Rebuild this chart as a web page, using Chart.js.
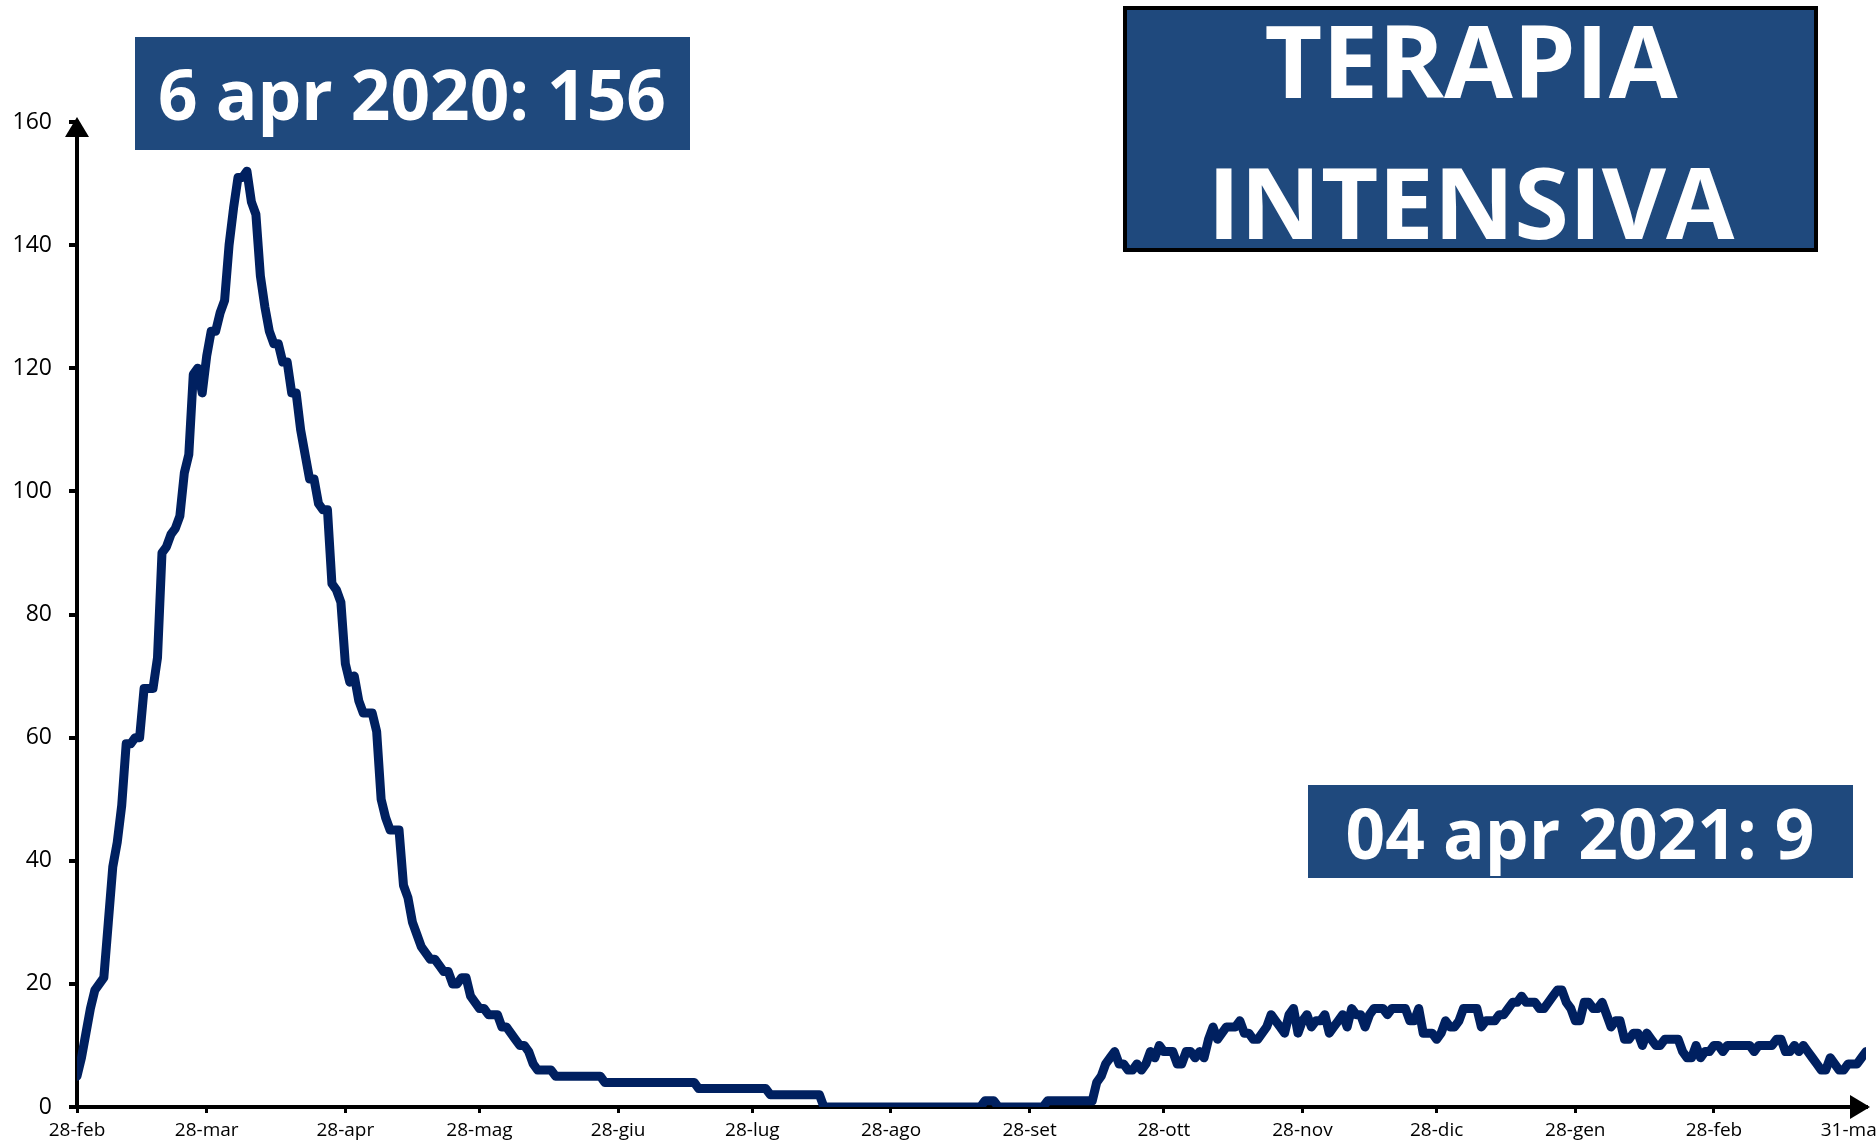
<!DOCTYPE html>
<html>
<head>
<meta charset="utf-8">
<title>Terapia intensiva</title>
<script src="https://cdn.jsdelivr.net/npm/chart.js@4.4.1/dist/chart.umd.min.js"></script>
<style>
  html, body { margin: 0; padding: 0; background: #fff; }
  canvas { display: block; }
</style>
</head>
<body>
<canvas id="icuChart" width="1876" height="1147"></canvas>
<script>
// daily patients in intensive care, one value per day from 28 feb 2020
const spring2020 = [
  5, 8, 12, 16, 19, 20, 21, 30, 39, 43,
  49, 59, 59, 60, 60, 68, 68, 68, 73, 90,
  91, 93, 94, 96, 103, 106, 119, 120, 116, 122,
  126, 126, 129, 131, 140, 146, 151, 151, 152, 147,
  145, 135, 130, 126, 124, 124, 121, 121, 116, 116,
  110, 106, 102, 102, 98, 97, 97, 85, 84, 82,
  72, 69, 70, 66, 64, 64, 64, 61, 50, 47,
  45, 45, 45, 36, 34, 30, 28, 26, 25, 24,
  24, 23, 22, 22, 20, 20, 21, 21, 18, 17,
  16, 16, 15, 15, 15, 13, 13, 12, 11, 10,
  10, 9, 7, 6, 6, 6, 6, 5, 5, 5
];
const summer2020 = [
  5, 5, 5, 5, 5, 5, 5, 5, 4, 4,
  4, 4, 4, 4, 4, 4, 4, 4, 4, 4,
  4, 4, 4, 4, 4, 4, 4, 4, 4, 3,
  3, 3, 3, 3, 3, 3, 3, 3, 3, 3,
  3, 3, 3, 3, 3, 2, 2, 2, 2, 2,
  2, 2, 2, 2, 2, 2, 2, 0, 0, 0,
  0, 0, 0, 0, 0, 0, 0, 0, 0, 0,
  0, 0, 0, 0, 0, 0, 0, 0, 0, 0,
  0, 0, 0, 0, 0, 0, 0, 0, 0, 0,
  0, 0, 0, 1, 1, 1, 0, 0, 0, 0,
  0, 0, 0, 0, 0, 0, 0, 1, 1, 1,
  1, 1, 1, 1, 1, 1, 1, 1, 4, 5
];
const autumnWinter = [
  7, 8, 9, 7, 7, 6, 6, 7, 6, 7,
  9, 8, 10, 9, 9, 9, 7, 7, 9, 9,
  8, 9, 8, 11, 13, 11, 12, 13, 13, 13,
  14, 12, 12, 11, 11, 12, 13, 15, 14, 13,
  12, 15, 16, 12, 14, 15, 13, 14, 14, 15,
  12, 13, 14, 15, 13, 16, 15, 15, 13, 15,
  16, 16, 16, 15, 16, 16, 16, 16, 14, 14,
  16, 12, 12, 12, 11, 12, 14, 13, 13, 14,
  16, 16, 16, 16, 13, 14, 14, 14, 15, 15,
  16, 17, 17, 18, 17, 17, 17, 16, 16, 17,
  18, 19, 19, 17, 16, 14, 14, 17, 17, 16,
  16, 17, 15, 13, 14, 14, 11, 11, 12, 12,
  10, 12, 11, 10, 10, 11, 11, 11, 11, 9,
  8, 8, 10, 8, 9, 9, 10, 10, 9, 10,
  10, 10, 10, 10, 10, 9, 10, 10, 10, 10,
  11, 11, 9, 9, 10, 9, 10, 9, 8, 7,
  6, 6, 8, 7, 6, 6, 7, 7, 7, 8,
  9
];
const icuPatients = spring2020.concat(summer2020, autumnWinter);

// x ticks: days since 28 feb 2020 and their labels
const xTickDays = [0, 29, 60, 90, 121, 151, 182, 213, 243, 274, 304, 335, 366, 397];
const xTickLabels = ['28-feb', '28-mar', '28-apr', '28-mag', '28-giu', '28-lug', '28-ago',
                     '28-set', '28-ott', '28-nov', '28-dic', '28-gen', '28-feb', '31-mar'];
const yTicks = [0, 20, 40, 60, 80, 100, 120, 140, 160];

const titleLines = ['TERAPIA', 'INTENSIVA'];
const callouts = ['6 apr 2020: 156', '04 apr 2021: 9'];

const LINE_COLOR = '#002060';
const BOX_COLOR = '#1F497D';
const FONT = '"Open Sans", "DejaVu Sans", sans-serif';

// set a bold font so the text takes the given width
function fitText(ctx, text, width) {
  ctx.font = `bold 100px ${FONT}`;
  const size = 100 * width / ctx.measureText(text).width;
  ctx.font = `bold ${size}px ${FONT}`;
}

function drawBox(ctx, x, y, w, h, border) {
  ctx.fillStyle = BOX_COLOR;
  ctx.fillRect(x, y, w, h);
  if (border) {
    ctx.lineWidth = 4;
    ctx.strokeStyle = '#000';
    ctx.strokeRect(x, y, w, h);
  }
}

const decorations = {
  id: 'decorations',
  afterDraw(chart) {
    const { ctx, scales } = chart;
    const ox = scales.x.getPixelForValue(0);
    const oy = scales.y.getPixelForValue(0);
    const top = scales.y.getPixelForValue(160);
    const right = scales.x.getPixelForValue(400);

    ctx.save();
    // axis arrow heads
    ctx.fillStyle = '#000';
    ctx.beginPath();
    ctx.moveTo(ox, top - 5);
    ctx.lineTo(ox - 12, top + 15);
    ctx.lineTo(ox + 12, top + 15);
    ctx.closePath();
    ctx.fill();
    ctx.beginPath();
    ctx.moveTo(right + 4, oy);
    ctx.lineTo(right - 16, oy - 12);
    ctx.lineTo(right - 16, oy + 12);
    ctx.closePath();
    ctx.fill();

    ctx.textAlign = 'center';
    ctx.textBaseline = 'alphabetic';

    // title box
    drawBox(ctx, 1125, 8, 691, 242, true);
    ctx.fillStyle = '#fff';
    fitText(ctx, titleLines[0], 413);
    ctx.fillText(titleLines[0], 1471, 98);
    fitText(ctx, titleLines[1], 527);
    ctx.fillText(titleLines[1], 1471, 239);

    // peak and last value callouts
    drawBox(ctx, 135, 37, 555, 113, false);
    ctx.fillStyle = '#fff';
    fitText(ctx, callouts[0], 508);
    ctx.fillText(callouts[0], 412, 120);

    drawBox(ctx, 1308, 785, 545, 93, false);
    ctx.fillStyle = '#fff';
    fitText(ctx, callouts[1], 469);
    ctx.fillText(callouts[1], 1580, 859);
    ctx.restore();
  }
};

new Chart(document.getElementById('icuChart'), {
  type: 'line',
  data: {
    datasets: [{
      data: icuPatients.map((v, i) => ({ x: i, y: v })),
      borderColor: LINE_COLOR,
      borderWidth: 9,
      borderJoinStyle: 'round',
      borderCapStyle: 'round',
      pointRadius: 0,
      tension: 0,
      fill: false
    }]
  },
  options: {
    responsive: false,
    animation: false,
    layout: { padding: { top: 122, right: 10, bottom: 0, left: 0 } },
    plugins: { legend: { display: false }, tooltip: { enabled: false } },
    scales: {
      x: {
        type: 'linear',
        min: 0,
        max: 400,
        z: 1,
        afterBuildTicks: (s) => { s.ticks = xTickDays.map(v => ({ value: v })); },
        afterFit: (s) => { s.height = 40; s.paddingLeft = 0; s.paddingRight = 0; },
        ticks: {
          autoSkip: false,
          maxRotation: 0,
          color: '#000',
          padding: 6,
          font: { family: FONT, size: 19 },
          callback: (v, i) => xTickLabels[i]
        },
        grid: { drawOnChartArea: false, tickLength: 6, lineWidth: 3, color: '#000' },
        border: { color: '#000', width: 4 }
      },
      y: {
        min: 0,
        max: 160,
        afterBuildTicks: (s) => { s.ticks = yTicks.map(v => ({ value: v })); },
        afterFit: (s) => { s.width = 77; },
        ticks: {
          color: '#000',
          padding: 17,
          font: { family: FONT, size: 23 }
        },
        grid: { drawOnChartArea: false, tickLength: 8, lineWidth: 4, color: '#000' },
        border: { color: '#000', width: 4 }
      }
    }
  },
  plugins: [decorations]
});
</script>
</body>
</html>
